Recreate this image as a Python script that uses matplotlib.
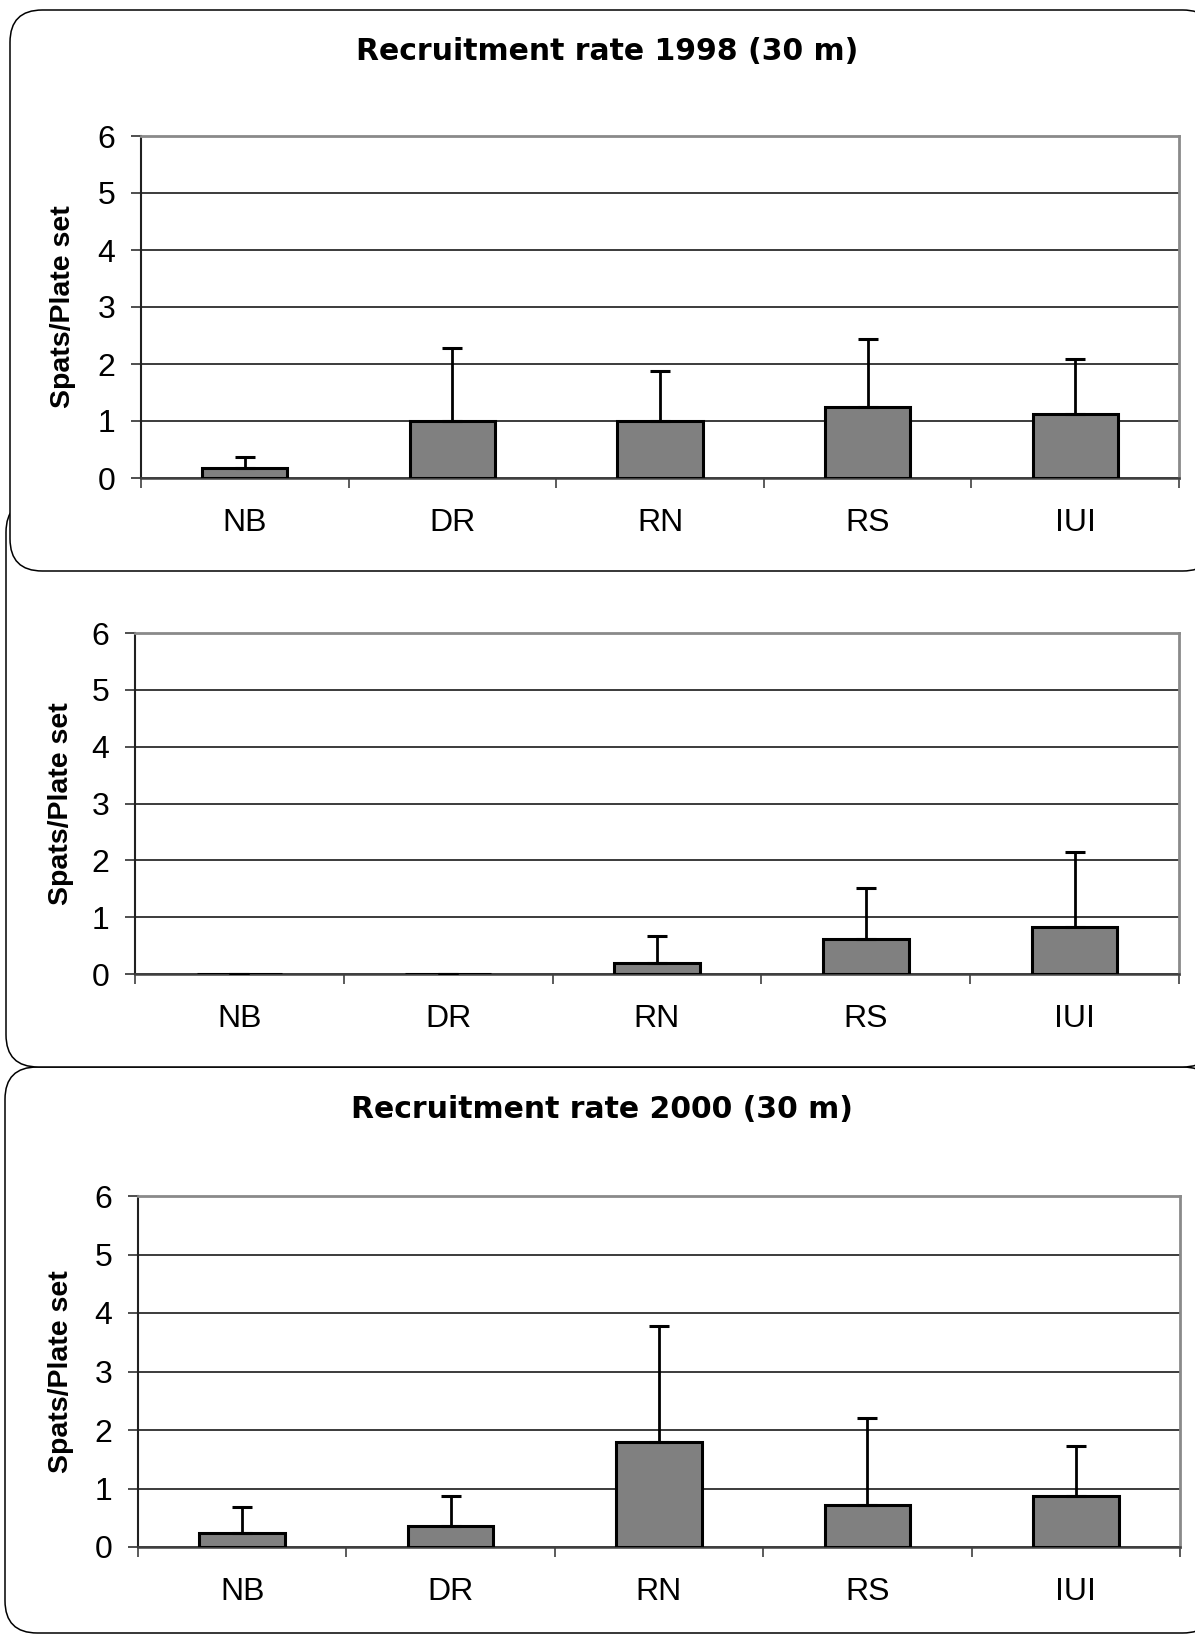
import matplotlib
matplotlib.use("Agg")
import matplotlib.pyplot as plt
from matplotlib.patches import FancyBboxPatch
import numpy as np

categories = ["NB", "DR", "RN", "RS", "IUI"]
mean_1998 = [0.17, 1.00, 1.00, 1.24, 1.12]
err_1998 = [0.20, 1.28, 0.88, 1.20, 0.96]
mean_1999 = [0.00, 0.00, 0.20, 0.61, 0.82]
err_1999 = [0.00, 0.00, 0.46, 0.91, 1.33]
mean_2000 = [0.24, 0.36, 1.79, 0.72, 0.88]
err_2000 = [0.44, 0.52, 1.98, 1.48, 0.84]
yticks = [0, 1, 2, 3, 4, 5, 6]
ylabel = "Spats/Plate set"
titles = ["Recruitment rate 1998 (30 m)", None, "Recruitment rate 2000 (30 m)"]

W, H = 1195, 1636
fig = plt.figure(figsize=(W / 100, H / 100), dpi=100)


def frac(x0, y0, x1, y1):
    return [x0 / W, 1 - y1 / H, (x1 - x0) / W, (y1 - y0) / H]


def box(x0, y0, x1, y1, z):
    p = FancyBboxPatch((x0 / W, 1 - y1 / H), (x1 - x0) / W, (y1 - y0) / H,
                       boxstyle="round,pad=0,rounding_size=0.027",
                       transform=fig.transFigure, facecolor="white",
                       edgecolor="black", linewidth=1.1, zorder=z,
                       mutation_aspect=W / H)
    fig.patches.append(p)


# panel frames (lower ones first, top panel drawn over the second)
box(5, 1067, 1215, 1633, 1)
box(6, 500, 1215, 1067, 2)
box(10, 10, 1215, 571, 3)

panels = [
    (mean_1998, err_1998, (141, 136, 1179, 478), titles[0], (607, 51), 76),
    (mean_1999, err_1999, (135, 633, 1179, 974), titles[1], None, 74),
    (mean_2000, err_2000, (138, 1196, 1180, 1547), titles[2], (602, 1109), 74),
]

for means, errs, rect, title, tpos, ylx in panels:
    x0, y0, x1, y1 = rect
    ax = fig.add_axes(frac(x0, y0, x1, y1))
    ax.set_zorder(10)
    ax.set_facecolor("white")
    xs = np.arange(len(categories)) + 0.5
    ax.bar(xs, means, width=0.41, color="#808080", edgecolor="black",
           linewidth=2.2, zorder=3)
    ax.errorbar(xs, means, yerr=[np.zeros(len(errs)), errs], fmt="none",
                ecolor="black", elinewidth=2.0, capsize=7, capthick=2.2,
                zorder=4)
    ax.set_xlim(0, len(categories))
    ax.set_ylim(0, 6)
    ax.set_yticks(yticks)
    ax.set_yticklabels([str(t) for t in yticks], family="Liberation Sans",
                       fontsize=23)
    ax.set_xticks(np.arange(len(categories) + 1))
    ax.set_xticklabels([])
    ax.set_xticks(xs, minor=True)
    ax.set_xticklabels(categories, minor=True, family="Liberation Sans",
                       fontsize=23)
    ax.tick_params(axis="x", which="major", length=7.5, width=1.2,
                   color="#404040", direction="out")
    ax.tick_params(axis="x", which="minor", length=0, pad=21.5)
    ax.tick_params(axis="y", length=7.5, width=1.2, color="#303030",
                   direction="out", pad=11)
    ax.grid(axis="y", color="#1a1a1a", linewidth=1.2, zorder=1)
    ax.set_axisbelow(True)
    for s in ("top", "right"):
        ax.spines[s].set_color("#8a8a8a")
        ax.spines[s].set_linewidth(2.0)
    ax.spines["left"].set_color("#202020")
    ax.spines["left"].set_linewidth(1.5)
    ax.spines["bottom"].set_color("#404040")
    ax.spines["bottom"].set_linewidth(1.8)
    ax.set_ylabel(ylabel, family="Liberation Sans", fontweight="bold",
                  fontsize=20.5)
    ax.yaxis.set_label_coords((ylx - x0) / (x1 - x0), 0.5)
    if title:
        fig.text(tpos[0] / W, 1 - tpos[1] / H, title, ha="center",
                 va="center", family="DejaVu Sans", fontweight="bold",
                 fontsize=21.5, zorder=11)

fig.savefig("out.png", dpi=100)
